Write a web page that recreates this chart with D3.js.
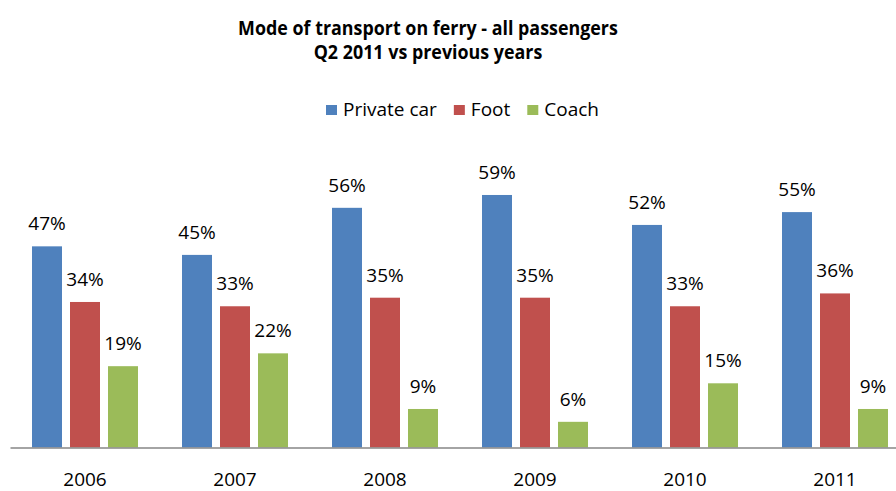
<!DOCTYPE html>
<html>
<head>
<meta charset="utf-8">
<script src="https://cdn.jsdelivr.net/npm/d3@7"></script>
<style>
  body { margin: 0; background: #fff; }
  text { font-family: "Open Sans", sans-serif; fill: #000; }
</style>
</head>
<body>
<div id="chart-area"></div>
<script>
// data
var years = ["2006", "2007", "2008", "2009", "2010", "2011"];
var seriesNames = ["Private car", "Foot", "Coach"];
var privateCar = [47, 45, 56, 59, 52, 55];
var foot = [34, 33, 35, 35, 33, 36];
var coach = [19, 22, 9, 6, 15, 9];
var colors = ["#4F81BD", "#C0504D", "#9BBB59"];
var titleLines = ["Mode of transport on ferry - all passengers", "Q2 2011 vs previous years"];

var canvasWidth = 896;
var canvasHeight = 491;
var baseline = 447.5;

var svg = d3.select("#chart-area")
    .append("svg")
        .attr("width", canvasWidth)
        .attr("height", canvasHeight);

var rows = years.map((yr, i) => ({
    year: yr,
    values: [privateCar[i], foot[i], coach[i]].map((v, j) => ({ key: seriesNames[j], value: v }))
}));

// Title (Calibri-like narrow bold: squeeze horizontally)
var titleG = svg.append("g");
var titleText = titleG.selectAll("text")
    .data(titleLines)
    .enter().append("text")
        .attr("x", 0)
        .attr("y", (d, i) => 35 + i * 24)
        .attr("text-anchor", "middle")
        .attr("font-size", "19px")
        .attr("font-weight", "bold")
        .text(d => d);
var l1 = titleText.nodes()[0].getComputedTextLength();
var sx = 380 / l1;
titleG.attr("transform", `translate(428,0) scale(${sx},1)`);

// Legend
var legend = svg.append("g").attr("transform", "translate(326,0)");
var lx = 0;
seriesNames.forEach((name, i) => {
    legend.append("rect")
        .attr("x", lx)
        .attr("y", 105)
        .attr("width", 11)
        .attr("height", 10)
        .attr("fill", colors[i]);
    var t = legend.append("text")
        .attr("x", lx + 17)
        .attr("y", 116)
        .attr("font-size", "19px")
        .text(name);
    lx += 17 + t.node().getComputedTextLength() + 17;
});

// Scales
var x0 = d3.scaleBand()
    .domain(years)
    .range([10, 910])
    .padding(0);

var x1 = d3.scaleBand()
    .domain(seriesNames)
    .range([0, x0.bandwidth()])
    .paddingInner(8 / 38)
    .paddingOuter(0.579);

var y = d3.scaleLinear()
    .domain([0, 70])
    .range([baseline, baseline - 4.28 * 70]);

var color = d3.scaleOrdinal().domain(seriesNames).range(colors);

// Bars
var groups = svg.selectAll("g.year")
    .data(rows)
    .enter().append("g")
        .attr("class", "year")
        .attr("transform", d => `translate(${x0(d.year)},0)`);

groups.selectAll("rect")
    .data(d => d.values)
    .enter().append("rect")
        .attr("x", d => x1(d.key))
        .attr("y", d => y(d.value))
        .attr("width", x1.bandwidth())
        .attr("height", d => baseline - y(d.value))
        .attr("fill", d => color(d.key));

groups.selectAll("text.lbl")
    .data(d => d.values)
    .enter().append("text")
        .attr("class", "lbl")
        .attr("x", d => x1(d.key) + x1.bandwidth() / 2)
        .attr("y", d => y(d.value) - 16)
        .attr("text-anchor", "middle")
        .attr("font-size", "19px")
        .text(d => d.value + "%");

// X axis
var xAxisCall = d3.axisBottom(x0).tickSize(0).tickPadding(25);
var xAxis = svg.append("g")
    .attr("class", "x axis")
    .attr("transform", `translate(0,${baseline})`)
    .call(xAxisCall);
xAxis.select(".domain")
    .attr("stroke", "#868686")
    .attr("stroke-width", 1.5);
xAxis.selectAll("text")
    .attr("font-size", "19px")
    .attr("font-family", "Open Sans, sans-serif")
    .attr("fill", "#000");
</script>
</body>
</html>
